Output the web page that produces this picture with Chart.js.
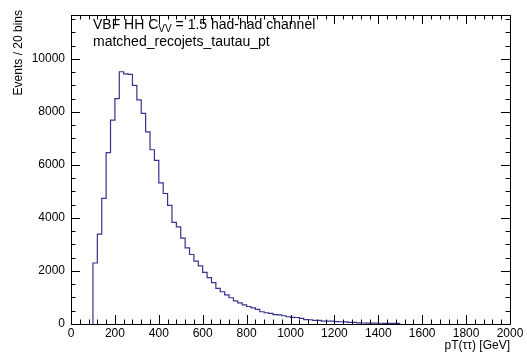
<!DOCTYPE html>
<html>
<head>
<meta charset="utf-8">
<script src="https://cdn.jsdelivr.net/npm/chart.js@4/dist/chart.umd.min.js"></script>
<style>
  body { margin: 0; background: #fff; }
  canvas { display: block; }
</style>
</head>
<body>
<canvas id="histChart" width="527" height="356"></canvas>
<script>
// histogram: 20 GeV bins starting at 100 GeV
const binStart = 100;
const binWidth = 20;
const counts = [
  2300, 3390, 4740, 6460, 7690, 8500, 9510, 9430, 9410, 9000,
  8450, 7940, 7240, 6570, 6170, 5320, 4920, 4470, 3830, 3660,
  3240, 2870, 2620, 2370, 2190, 1950, 1745, 1557, 1345, 1215,
  1100, 990, 875, 800, 720, 660, 610, 548, 461, 424,
  399, 350, 345, 311, 274, 249, 245, 212, 165, 160,
  137, 135, 112, 110, 108, 87, 85, 82, 62, 60,
  40, 37, 35, 30, 30, 28, 25, 25, 22, 20
];
const xTicks = [0, 200, 400, 600, 800, 1000, 1200, 1400, 1600, 1800, 2000];
const yTicks = [0, 2000, 4000, 6000, 8000, 10000];
const xMax = 2000;
const yMax = 11650;

const titleLine1 = "VBF HH C";
const titleSub = "VV";
const titleLine1End = " = 1.5 had-had channel";
const titleLine2 = "matched_recojets_tautau_pt";
const yTitle = "Events / 20 bins";
const xTitle = "pT(\u03c4\u03c4) [GeV]";

// step points: left edge of every bin + closing edge
const points = [{ x: binStart, y: 0 }];
counts.forEach((c, i) => {
  points.push({ x: binStart + i * binWidth, y: c });
});
points.push({ x: binStart + counts.length * binWidth, y: counts[counts.length - 1] });

const FONT = "'Liberation Sans', Arial, Helvetica, sans-serif";

// ROOT-like frame with inward ticks + text
const rootFrame = {
  id: 'rootFrame',
  afterDraw(chart) {
    const ctx = chart.ctx;
    const a = chart.chartArea;
    const xs = chart.scales.x;
    const ys = chart.scales.y;
    ctx.save();
    ctx.strokeStyle = '#000';
    ctx.lineWidth = 1;
    ctx.beginPath();
    ctx.rect(Math.round(a.left) + 0.5, Math.round(a.top) + 0.5,
      Math.round(a.right - a.left), Math.round(a.bottom - a.top));
    ctx.stroke();

    ctx.beginPath();
    for (let v = 0; v <= xMax; v += 40) {
      const px = Math.round(xs.getPixelForValue(v)) + 0.5;
      const len = v % 200 === 0 ? 9 : 4.5;
      ctx.moveTo(px, a.bottom); ctx.lineTo(px, a.bottom - len);
      ctx.moveTo(px, a.top); ctx.lineTo(px, a.top + len);
    }
    for (let v = 0; v <= yMax; v += 500) {
      const py = Math.round(ys.getPixelForValue(v)) + 0.5;
      const len = v % 2000 === 0 ? 9 : 4.5;
      ctx.moveTo(a.left, py); ctx.lineTo(a.left + len, py);
      ctx.moveTo(a.right, py); ctx.lineTo(a.right - len, py);
    }
    ctx.stroke();

    // titles
    ctx.fillStyle = '#000';
    ctx.textBaseline = 'alphabetic';
    ctx.textAlign = 'left';
    ctx.font = '14px ' + FONT;
    let tx = 93;
    ctx.fillText(titleLine1, tx, 29);
    tx += ctx.measureText(titleLine1).width;
    ctx.font = '10px ' + FONT;
    ctx.fillText(titleSub, tx, 32);
    tx += ctx.measureText(titleSub).width;
    ctx.font = '14px ' + FONT;
    ctx.fillText(titleLine1End, tx, 29);
    ctx.fillText(titleLine2, 93, 46);

    ctx.font = '12px ' + FONT;
    ctx.textAlign = 'right';
    ctx.fillText(xTitle, 510, 349);

    ctx.translate(22, 10);
    ctx.rotate(-Math.PI / 2);
    ctx.fillText(yTitle, 0, 0);
    ctx.restore();
  }
};

new Chart(document.getElementById('histChart'), {
  type: 'line',
  data: {
    datasets: [{
      data: points,
      stepped: 'before',
      borderColor: '#34348c',
      borderWidth: 1.2,
      pointRadius: 0,
      fill: false
    }]
  },
  options: {
    responsive: false,
    animation: false,
    plugins: { legend: { display: false }, tooltip: { enabled: false } },
    layout: { padding: { top: 15, right: 17, left: 0, bottom: 0 } },
    scales: {
      x: {
        type: 'linear',
        min: 0,
        max: xMax,
        afterFit: s => { s.height = 32; },
        afterBuildTicks: s => { s.ticks = xTicks.map(v => ({ value: v })); },
        grid: { display: false, drawTicks: false },
        border: { display: false },
        ticks: {
          padding: 2,
          maxRotation: 0,
          color: '#000',
          font: { family: FONT, size: 12 },
          callback: v => String(v)
        }
      },
      y: {
        type: 'linear',
        min: 0,
        max: yMax,
        afterFit: s => { s.width = 71; },
        afterBuildTicks: s => { s.ticks = yTicks.map(v => ({ value: v })); },
        grid: { display: false, drawTicks: false },
        border: { display: false },
        ticks: {
          padding: 6,
          color: '#000',
          font: { family: FONT, size: 12 },
          callback: v => String(v)
        }
      }
    }
  },
  plugins: [rootFrame]
});
</script>
</body>
</html>
